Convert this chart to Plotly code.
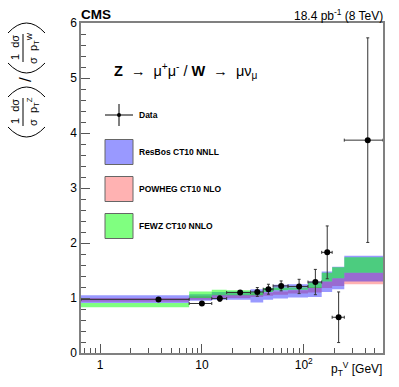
import plotly.graph_objects as go

# bins in pT(V) [GeV]
bin_lo = [0, 7.5, 12.5, 17.5, 30, 40, 50, 70, 110, 150, 190, 250]
bin_hi = [7.5, 12.5, 17.5, 30, 40, 50, 70, 110, 150, 190, 250, 600]

# data: ratio of normalized Z / W differential cross sections
data_y = [0.975, 0.90, 0.99, 1.10, 1.11, 1.16, 1.22, 1.21, 1.29, 1.83, 0.65, 3.87]
data_err = [0.02, 0.02, 0.05, 0.03, 0.08, 0.09, 0.09, 0.13, 0.23, 0.48, 0.46, 1.86]

# theory bands (low, high) per bin
resbos_lo = [0.91, 0.95, 0.97, 0.97, 0.92, 0.97, 0.99, 1.01, 1.02, 1.11, 1.16, 1.30]
resbos_hi = [1.05, 1.07, 1.11, 1.12, 1.16, 1.18, 1.24, 1.25, 1.30, 1.48, 1.57, 1.77]
powheg_lo = [0.93, 0.97, 1.00, 1.00, 1.02, 1.04, 1.06, 1.08, 1.10, 1.18, 1.22, 1.25]
powheg_hi = [1.00, 1.03, 1.06, 1.06, 1.08, 1.10, 1.12, 1.14, 1.20, 1.30, 1.36, 1.46]
fewz_lo = [0.83, 1.00, 1.05, 1.05, 1.05, 1.11, 1.14, 1.15, 1.18, 1.30, 1.36, 1.46]
fewz_hi = [0.91, 1.12, 1.15, 1.14, 1.11, 1.18, 1.19, 1.19, 1.28, 1.46, 1.56, 1.74]

XMIN, XMAX = 0.65, 600

# page body has an 8px margin, so the figure is drawn 8px smaller and positions shifted
OFF = 8
W, H = 399 - OFF, 387 - OFF
L, R, T, B = 81 - OFF, 16, 23 - OFF, 34
PW, PH = W - L - R, H - T - B


def px(x):
    return (x - OFF - L) / PW


def py(y):
    return (H - B - (y - OFF)) / PH


def band(lo, hi, color, name):
    xs, ys = [], []
    for a, b, l, h in zip(bin_lo, bin_hi, lo, hi):
        a = max(a, XMIN)
        xs += [a, b, b, a, a, None]
        ys += [l, l, h, h, l, None]
    return go.Scatter(x=xs, y=ys, fill="toself", fillcolor=color, mode="lines",
                      line=dict(width=0), name=name, hoverinfo="skip", showlegend=False)


fig = go.Figure()
fig.add_trace(band(powheg_lo, powheg_hi, "rgba(255,0,0,0.3)", "POWHEG CT10 NLO"))
fig.add_trace(band(resbos_lo, resbos_hi, "rgba(0,0,255,0.4)", "ResBos CT10 NNLL"))
fig.add_trace(band(fewz_lo, fewz_hi, "rgba(0,255,0,0.5)", "FEWZ CT10 NNLO"))

centers = [(a + b) / 2 for a, b in zip(bin_lo, bin_hi)]
fig.add_trace(go.Scatter(
    x=centers, y=data_y, mode="markers", name="Data", showlegend=False,
    marker=dict(color="black", size=6),
    error_y=dict(type="data", array=data_err, color="#333", thickness=1, width=1.5),
    error_x=dict(type="data", symmetric=False,
                 array=[b - c for b, c in zip(bin_hi, centers)],
                 arrayminus=[c - max(a, XMIN) for a, c in zip(bin_lo, centers)],
                 color="#333", thickness=1, width=1.5),
))

minor_x = [0.7, 0.8, 0.9] + [i for i in range(2, 10)] + [i * 10 for i in range(2, 10)] + [i * 100 for i in range(2, 6)]

fig.update_layout(
    template="none",
    width=W, height=H, margin=dict(l=L, r=R, t=T, b=B),
    plot_bgcolor="white", paper_bgcolor="white",
    font=dict(family="Liberation Sans, Arial, sans-serif", size=11, color="black"),
    xaxis=dict(type="log", range=[-0.187, 2.778], showgrid=False, zeroline=False,
               showline=True, linecolor="#808080", linewidth=1.5, mirror=True,
               ticks="inside", ticklen=9, tickcolor="#555", tickwidth=1,
               tickvals=[1, 10, 100], ticktext=["1", "10", "10<sup>2</sup>"],
               tickfont=dict(size=12),
               minor=dict(ticks="inside", ticklen=5, tickcolor="#555", tickvals=minor_x)),
    yaxis=dict(range=[0, 6], showgrid=False, zeroline=False,
               showline=True, linecolor="#808080", linewidth=1.5, mirror=True,
               ticks="inside", ticklen=9, tickcolor="#555", tickwidth=1,
               tickvals=[0, 1, 2, 3, 4, 5, 6], tickfont=dict(size=12),
               minor=dict(ticks="inside", ticklen=5, tickcolor="#555", dtick=0.2)),
)

NB = "\u00a0"
ann = []
ann.append(dict(x=px(80), y=py(14.5), text="<b>CMS</b>", xanchor="left", yanchor="middle",
                font=dict(size=13.5), borderpad=0))
ann.append(dict(x=px(384), y=py(15), text="18.4 pb<sup>-1</sup> (8 TeV)", xanchor="right",
                yanchor="middle", font=dict(size=12), borderpad=0))
ann.append(dict(x=px(384), y=py(369), text="p<sub>T</sub><sup>V</sup> [GeV]", xanchor="right",
                yanchor="middle", font=dict(size=12)))
ann.append(dict(x=px(112), y=py(71), xanchor="left", yanchor="middle", font=dict(size=14.5),
                text="<b>Z</b>" + NB * 2 + "\u2192" + NB * 2 + "\u03bc<sup>+</sup>\u03bc<sup>-</sup> / <b>W</b>"
                     + NB * 2 + "\u2192" + NB * 2 + "\u03bc\u03bd<sub>\u03bc</sub>"))

# legend
leg_labels = ["Data", "ResBos CT10 NNLL", "POWHEG CT10 NLO", "FEWZ CT10 NNLO"]
leg_y = [115, 152, 189, 226]
for lab, yy in zip(leg_labels, leg_y):
    ann.append(dict(x=px(137), y=py(yy), text="<b>%s</b>" % lab, xanchor="left", yanchor="middle",
                    font=dict(size=8.5)))

shapes = []
box_cols = ["#9999ff", "#ffb2b2", "#80ff80"]
for col, yy in zip(box_cols, leg_y[1:]):
    shapes.append(dict(type="rect", xref="paper", yref="paper", x0=px(105), x1=px(133),
                       y0=py(yy - 12.5), y1=py(yy + 12.5), fillcolor=col,
                       line=dict(color="#666", width=1)))
shapes.append(dict(type="line", xref="paper", yref="paper", x0=px(105), x1=px(133),
                   y0=py(115), y1=py(115), line=dict(color="black", width=1)))
shapes.append(dict(type="line", xref="paper", yref="paper", x0=px(119), x1=px(119),
                   y0=py(104), y1=py(126), line=dict(color="black", width=1)))
shapes.append(dict(type="circle", xref="paper", yref="paper", x0=px(117), x1=px(121),
                   y0=py(117), y1=py(113), fillcolor="black", line=dict(color="black", width=0)))


def arc(x0, x1, y_end, y_apex):
    yc = 2 * y_apex - y_end
    return dict(type="path", xref="paper", yref="paper",
                path="M %f %f Q %f %f %f %f" % (px(x0), py(y_end), px((x0 + x1) / 2), py(yc), px(x1), py(y_end)),
                line=dict(color="black", width=1))


# y-axis title built from rotated pieces
for name, yc in (("W", 48), ("Z", 112)):
    ann.append(dict(x=px(15), y=py(yc), text="1" + NB * 2 + "d\u03c3", textangle=-90, font=dict(size=11),
                    xanchor="center", yanchor="middle"))
    ann.append(dict(x=px(33), y=py(yc), text="\u03c3" + NB * 2 + "p<sub>T</sub><sup>%s</sup>" % name,
                    textangle=-90, font=dict(size=11), xanchor="center", yanchor="middle"))
    shapes.append(dict(type="line", xref="paper", yref="paper", x0=px(23), x1=px(23),
                       y0=py(yc - 14), y1=py(yc + 14), line=dict(color="black", width=1)))
    shapes.append(arc(8, 45, yc - 15, yc - 25))
    shapes.append(arc(8, 45, yc + 15, yc + 25))
ann.append(dict(x=px(25), y=py(80), text="/", textangle=-90, font=dict(size=17),
                xanchor="center", yanchor="middle"))

for a in ann:
    a.setdefault("showarrow", False)
    a["xref"] = "paper"
    a["yref"] = "paper"

fig.update_layout(annotations=ann, shapes=shapes)
fig.write_html("out.html")
